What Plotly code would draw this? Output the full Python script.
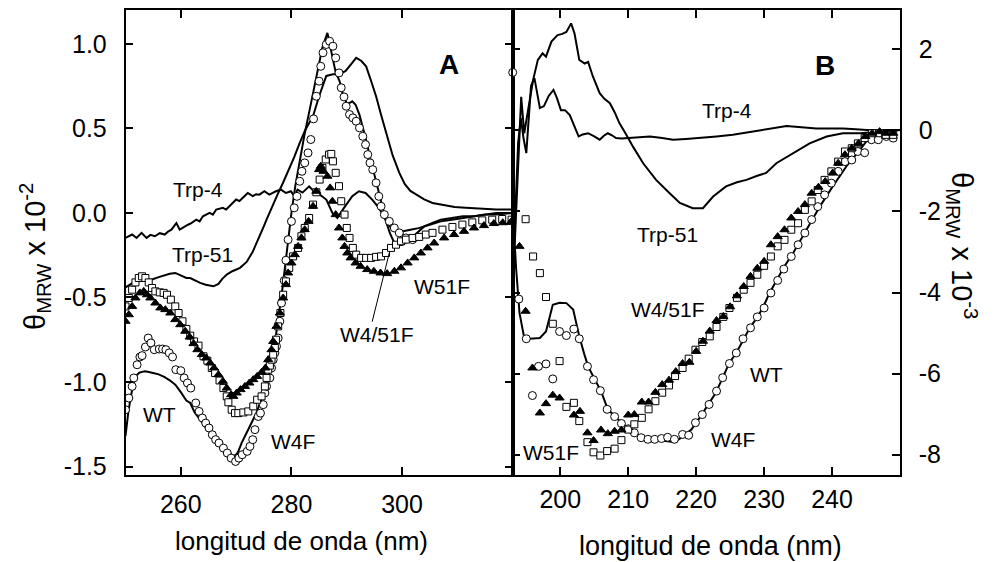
import plotly.graph_objects as go

# ---------------- Panel A (near-UV, x 10^-2) ----------------
wt_a_x = [250.0, 250.5, 251.0, 251.5, 252.0, 252.5, 253.0, 253.5, 254.0, 254.5, 255.0, 256.0, 257.0, 258.0, 259.0,
          260.0, 261.0, 261.7, 262.5, 263.5, 264.5, 265.9, 266.8, 267.7, 268.6, 269.5, 270.0, 270.4, 271.0, 271.9,
          272.8, 273.7, 274.6, 275.5, 276.1, 276.7, 277.3, 277.9, 278.4, 278.8, 279.4, 280.0, 280.7, 281.5, 282.4,
          283.3, 284.0, 284.8, 285.6, 286.5, 287.0, 287.5, 288.0, 288.7, 289.3, 290.0, 290.5, 291.0, 291.6, 292.3,
          293.0, 293.5, 294.2, 295.0, 295.8, 296.5, 297.1, 297.8, 298.5, 299.3, 300.0, 301.0, 302.0, 303.0, 304.0,
          305.5, 307.0, 309.0, 311.0, 313.0, 315.0, 317.0, 320.0]
wt_a_y = [-1.32, -1.18, -1.08, -1.00, -0.96, -0.945, -0.94, -0.937, -0.94, -0.945, -0.947, -0.955, -0.97, -0.99, -1.016,
          -1.06, -1.11, -1.124, -1.18, -1.223, -1.27, -1.322, -1.35, -1.381, -1.41, -1.44, -1.43, -1.41, -1.36, -1.30,
          -1.24, -1.18, -1.10, -1.026, -0.93, -0.83, -0.70, -0.572, -0.44, -0.33, -0.16, 0.0, 0.16, 0.315, 0.47,
          0.611, 0.73, 0.867, 0.98, 1.065, 0.99, 0.90, 0.83, 0.78, 0.70, 0.65, 0.65, 0.66, 0.64, 0.58,
          0.50, 0.43, 0.33, 0.22, 0.12, 0.03, -0.05, -0.12, -0.17, -0.19, -0.19, -0.17, -0.14, -0.11, -0.08,
          -0.06, -0.04, -0.03, -0.02, -0.02, -0.01, -0.01, 0.0]

trp4_a_x = [250.0, 251.2, 252.0, 252.9, 253.8, 254.5, 255.3, 256.2, 257.1, 257.7, 258.3, 259.2, 259.8, 260.7, 261.3,
            261.9, 262.8, 263.4, 264.0, 265.2, 265.8, 266.4, 267.6, 268.2, 268.8, 269.4, 270.0, 270.6, 271.2, 272.1,
            273.0, 273.6, 274.2, 275.1, 276.0, 276.6, 277.2, 278.1, 279.0, 279.9, 280.5, 281.1, 282.0, 283.2, 284.0,
            284.7, 285.5, 286.3, 287.4, 288.3, 289.5, 290.3, 291.0, 292.2, 293.4, 294.6, 295.8, 297.0, 298.2, 299.0,
            300.0, 301.5, 303.0, 305.0, 307.0, 309.0, 311.0, 313.0, 315.0, 317.0, 320.0]
trp4_a_y = [-0.148, -0.128, -0.148, -0.118, -0.148, -0.13, -0.138, -0.12, -0.128, -0.11, -0.099, -0.06, -0.099, -0.079, -0.07,
            -0.06, -0.04, -0.05, -0.02, 0.0, -0.01, 0.02, 0.03, 0.02, 0.04, 0.06, 0.079, 0.07, 0.089, 0.118,
            0.099, 0.11, 0.108, 0.128, 0.108, 0.12, 0.128, 0.138, 0.118, 0.128, 0.099, 0.138, 0.12, 0.157, 0.13,
            0.118, 0.10, 0.079, 0.0, -0.03, 0.03, 0.07, 0.099, 0.128, 0.118, 0.079, 0.03, -0.04, -0.099, -0.11,
            -0.11, -0.10, -0.09, -0.07, -0.05, -0.04, -0.03, -0.02, -0.01, 0.0, 0.0]

trp51_a_x = [250.0, 251.0, 252.0, 253.0, 254.0, 254.8, 256.0, 257.0, 258.0, 259.0, 260.0, 261.0, 261.7, 262.5, 263.5,
             264.5, 265.9, 266.8, 267.5, 268.3, 269.3, 270.7, 271.9, 273.0, 274.0, 275.0, 275.5, 276.5, 277.5, 278.5,
             279.5, 280.5, 281.5, 282.5, 283.9, 285.0, 286.3, 287.5, 288.7, 289.8, 290.8, 291.7, 292.6, 293.5, 294.4,
             295.3, 296.2, 297.1, 298.3, 299.5, 300.5, 301.5, 302.5, 304.0, 305.5, 307.5, 309.5, 311.5, 314.0, 317.0,
             320.0]
trp51_a_y = [-0.44, -0.42, -0.40, -0.40, -0.395, -0.394, -0.38, -0.37, -0.36, -0.355, -0.37, -0.385, -0.385, -0.40, -0.414,
             -0.425, -0.434, -0.42, -0.39, -0.365, -0.345, -0.325, -0.29, -0.23, -0.16, -0.08, -0.04, 0.04, 0.11, 0.18,
             0.25, 0.33, 0.414, 0.49, 0.572, 0.69, 0.81, 0.82, 0.82, 0.84, 0.88, 0.917, 0.90, 0.867, 0.78,
             0.69, 0.58, 0.473, 0.34, 0.237, 0.17, 0.13, 0.108, 0.08, 0.059, 0.045, 0.035, 0.03, 0.025, 0.02,
             0.02]

w4f_a_x = [250.0, 250.6, 251.2, 251.5, 252.1, 252.6, 253.0, 253.6, 254.1, 254.6, 255.2, 256.1, 256.7, 257.3, 257.9,
           258.5, 259.1, 260.0, 260.6, 261.2, 261.8, 262.7, 263.3, 263.9, 264.5, 265.1, 265.7, 266.3, 266.9, 267.7,
           268.4, 269.1, 269.9, 270.5, 271.1, 272.0, 272.5, 273.0, 273.4, 274.0, 274.4, 274.9, 275.2, 275.5, 276.1,
           276.4, 276.7, 277.0, 277.3, 277.6, 277.9, 278.2, 278.7, 279.0, 279.4, 280.0, 280.5, 281.0, 281.5, 281.9,
           282.4, 283.0, 283.5, 284.0, 284.5, 285.0, 285.3, 285.7, 286.3, 286.9, 287.5, 288.0, 288.6, 289.0, 289.5,
           289.9, 290.5, 291.1, 291.7, 292.3, 292.9, 293.4, 293.8, 294.2, 294.7, 295.3, 295.8, 296.2, 296.8, 297.7,
           298.6, 299.5, 300.7, 301.9]
w4f_a_y = [-1.164, -1.095, -1.026, -0.976, -0.898, -0.852, -0.844, -0.793, -0.740, -0.769, -0.809, -0.805, -0.805, -0.809, -0.828,
           -0.852, -0.927, -0.933, -0.976, -1.006, -1.036, -1.124, -1.174, -1.213, -1.243, -1.272, -1.312, -1.341, -1.361, -1.391,
           -1.420, -1.450, -1.470, -1.450, -1.430, -1.410, -1.381, -1.341, -1.282, -1.204, -1.184, -1.134, -1.065, -1.026, -0.976,
           -0.917, -0.868, -0.828, -0.789, -0.740, -0.641, -0.533, -0.40, -0.28, -0.158, -0.050, 0.030, 0.098, 0.187, 0.246,
           0.296, 0.355, 0.434, 0.556, 0.690, 0.779, 0.867, 0.947, 0.996, 1.015, 0.986, 0.917, 0.828, 0.740, 0.686,
           0.631, 0.582, 0.562, 0.542, 0.503, 0.453, 0.404, 0.345, 0.296, 0.256, 0.178, 0.098, 0.039, -0.010, -0.050,
           -0.089, -0.118, -0.148, -0.158]

w51f_a_x = [250.0, 250.6, 251.2, 251.8, 252.6, 253.3, 253.9, 254.5, 255.4, 256.3, 257.2, 258.1, 259.0, 259.9, 260.8,
            261.6, 262.3, 263.0, 263.8, 264.6, 265.3, 266.0, 266.8, 267.6, 268.3, 269.1, 269.5, 270.1, 270.8, 271.6,
            272.4, 273.1, 273.8, 274.6, 275.3, 275.8, 276.4, 276.7, 277.3, 277.9, 278.5, 279.0, 279.4, 280.0, 280.6,
            281.2, 281.8, 282.4, 283.1, 283.9, 284.5, 285.0, 285.3, 285.8, 286.5, 287.0, 287.4, 288.0, 288.6, 289.2,
            289.6, 290.1, 290.7, 291.6, 292.5, 293.7, 294.9, 296.1, 297.3, 298.6, 299.8, 301.0, 302.2, 303.4, 304.6,
            305.8, 307.6, 309.4, 311.2, 313.0, 314.8, 316.6, 318.2, 319.6]
w51f_a_y = [-0.641, -0.602, -0.553, -0.503, -0.473, -0.464, -0.484, -0.503, -0.533, -0.562, -0.572, -0.592, -0.631, -0.661, -0.700,
            -0.734, -0.773, -0.809, -0.838, -0.858, -0.888, -0.917, -0.957, -0.996, -1.036, -1.075, -1.085, -1.065, -1.045, -1.026,
            -1.006, -0.986, -0.967, -0.943, -0.917, -0.868, -0.809, -0.760, -0.671, -0.592, -0.503, -0.424, -0.355, -0.296, -0.247,
            -0.198, -0.148, -0.099, -0.050, 0.039, 0.128, 0.256, 0.276, 0.246, 0.217, 0.148, 0.069, -0.010, -0.089, -0.148,
            -0.198, -0.237, -0.266, -0.296, -0.316, -0.335, -0.345, -0.355, -0.359, -0.345, -0.325, -0.296, -0.266, -0.237, -0.207,
            -0.178, -0.148, -0.128, -0.109, -0.089, -0.075, -0.063, -0.058, -0.056]

w451f_a_x = [250.0, 250.6, 251.2, 251.8, 252.4, 253.0, 253.6, 254.2, 254.8, 255.4, 256.2, 256.9, 257.5, 258.2, 259.0,
             259.6, 260.3, 261.0, 261.7, 262.4, 263.2, 264.1, 264.8, 265.6, 266.2, 267.0, 267.7, 268.3, 268.6, 269.2,
             269.8, 270.4, 271.3, 272.2, 273.1, 273.8, 274.6, 275.2, 275.5, 275.8, 276.1, 276.4, 276.7, 277.0, 277.2,
             277.6, 278.0, 278.5, 279.0, 279.6, 280.3, 281.2, 281.8, 282.4, 283.2, 283.9, 284.5, 285.1, 285.6, 286.2,
             286.8, 287.2, 287.5, 288.0, 288.6, 289.0, 289.6, 290.0, 290.5, 291.1, 291.7, 292.6, 293.5, 294.4, 295.3,
             296.2, 297.1, 298.0, 298.9, 299.8, 300.7, 301.9, 303.1, 304.3, 305.5, 307.3, 309.1, 310.9, 312.7, 314.5,
             316.3, 318.1, 319.8]
w451f_a_y = [-0.553, -0.503, -0.454, -0.411, -0.385, -0.375, -0.385, -0.411, -0.444, -0.464, -0.470, -0.473, -0.484, -0.513, -0.553,
             -0.592, -0.641, -0.686, -0.726, -0.760, -0.785, -0.848, -0.874, -0.917, -0.947, -0.991, -1.036, -1.085, -1.120, -1.164,
             -1.184, -1.184, -1.180, -1.174, -1.144, -1.105, -1.085, -1.026, -0.976, -0.927, -0.903, -0.868, -0.838, -0.799, -0.750,
             -0.671, -0.592, -0.484, -0.405, -0.325, -0.257, -0.207, -0.138, -0.089, -0.030, 0.049, 0.122, 0.197, 0.266, 0.316,
             0.345, 0.349, 0.305, 0.237, 0.158, 0.069, -0.010, -0.089, -0.148, -0.207, -0.247, -0.266, -0.266, -0.266, -0.260,
             -0.257, -0.237, -0.207, -0.188, -0.168, -0.158, -0.148, -0.142, -0.128, -0.118, -0.099, -0.083, -0.069, -0.056, -0.044,
             -0.040, -0.036, -0.040]

# ---------------- Panel B (far-UV, x 10^-3) ----------------
wt_b_x = [193.0, 193.5, 194.0, 194.7, 195.5, 196.3, 197.0, 197.9, 198.9, 199.9, 200.9, 201.9, 202.8, 203.5, 204.1,
          205.1, 206.0, 207.0, 208.0, 209.0, 210.0, 210.9, 211.9, 213.6, 215.6, 216.8, 217.8, 219.3, 220.5, 221.9,
          222.9, 223.9, 224.9, 225.9, 226.9, 227.9, 228.9, 229.8, 230.8, 231.8, 233.0, 234.3, 236.2, 238.2, 240.1,
          242.1, 244.1, 245.6, 247.0, 248.5, 250.0]
wt_b_y = [-1.9, -3.4, -4.5, -5.12, -5.14, -5.13, -5.12, -4.96, -4.30, -4.25, -4.26, -4.42, -5.08, -5.5, -5.82,
          -6.15, -6.43, -6.88, -7.05, -7.21, -7.34, -7.46, -7.58, -7.62, -7.67, -7.69, -7.58, -7.38, -7.09, -6.72,
          -6.47, -6.10, -5.73, -5.49, -5.16, -4.87, -4.63, -4.38, -4.01, -3.72, -3.35, -3.02, -2.45, -1.88, -1.38,
          -0.89, -0.48, -0.15, -0.03, 0.0, 0.01]

trp4_b_x = [193.3, 193.8, 194.2, 194.6, 195.0, 195.4, 195.7, 196.2, 196.6, 197.0, 197.6, 198.3, 199.0, 199.5, 200.1,
            200.7, 201.4, 202.0, 202.7, 203.3, 204.1, 205.0, 205.8, 206.5, 207.0, 207.6, 208.2, 209.0, 209.7, 211.5,
            213.2, 215.0, 216.6, 218.5, 220.5, 223.0, 225.4, 227.5, 229.4, 231.5, 233.3, 235.5, 237.7, 239.5, 241.6,
            243.5, 245.1, 247.5, 250.0]
trp4_b_y = [-2.4, -0.3, 0.3, -0.2, -0.56, 0.3, 1.1, 1.29, 0.9, 0.55, 0.6, 0.85, 1.0, 0.8, 0.5,
            0.5, 0.38, 0.15, -0.15, -0.1, -0.07, -0.15, -0.23, -0.12, -0.07, -0.12, -0.19, -0.2, -0.19, -0.17,
            -0.15, -0.19, -0.23, -0.21, -0.19, -0.15, -0.11, -0.05, 0.01, 0.07, 0.11, 0.08, 0.05, 0.05, 0.05,
            0.03, 0.01, 0.01, 0.01]

trp51_b_x = [193.3, 193.8, 194.25, 194.7, 195.5, 196.0, 196.7, 197.4, 197.9, 198.7, 199.6, 200.3, 200.9, 201.6, 202.1,
             202.8, 203.6, 204.1, 204.8, 205.8, 206.5, 207.3, 208.0, 208.7, 209.7, 210.7, 212.2, 214.1, 216.1, 217.6,
             219.5, 221.0, 222.5, 224.4, 226.0, 227.4, 229.0, 230.3, 231.8, 234.3, 236.7, 239.2, 241.6, 244.1, 246.5,
             250.0]
trp51_b_y = [-2.8, -0.8, 0.83, -0.07, 0.75, 1.24, 1.74, 1.9, 1.82, 2.19, 2.35, 2.38, 2.43, 2.64, 2.39,
             1.74, 1.65, 1.69, 1.33, 0.92, 0.78, 0.67, 0.45, 0.18, -0.1, -0.4, -0.81, -1.22, -1.55, -1.79,
             -1.92, -1.92, -1.63, -1.38, -1.28, -1.22, -1.12, -1.05, -0.81, -0.56, -0.32, -0.15, -0.07, -0.07, -0.03,
             0.01]

w4f_b_x = [193.0, 193.9, 195.0, 195.9, 196.8, 197.9, 198.9, 199.9, 200.9, 202.0, 202.8, 204.0, 204.9, 205.9, 206.9,
           208.0, 209.0, 210.0, 210.9, 211.9, 212.9, 213.9, 214.9, 215.8, 216.8, 218.0, 218.9, 219.9, 220.9, 221.9,
           223.0, 223.9, 224.9, 225.9, 226.9, 228.0, 229.0, 230.0, 231.0, 232.0, 232.9, 234.0, 235.0, 236.0, 237.0,
           237.9, 238.9, 239.9, 240.9, 241.9, 242.9, 243.8, 244.8, 245.8, 246.8, 248.0, 249.0]
w4f_b_y = [1.43, -4.16, -5.14, -6.54, -5.82, -5.76, -6.13, -4.96, -5.06, -4.90, -5.14, -5.82, -6.15, -6.42, -6.88,
           -7.06, -7.23, -7.36, -7.46, -7.58, -7.62, -7.62, -7.60, -7.57, -7.62, -7.50, -7.52, -7.21, -7.01, -6.76,
           -6.43, -6.10, -5.75, -5.49, -5.14, -4.87, -4.60, -4.38, -4.01, -3.70, -3.42, -3.11, -2.82, -2.53, -2.20,
           -1.88, -1.59, -1.30, -1.01, -0.77, -0.73, -0.52, -0.55, -0.23, -0.23, -0.15, -0.19]

w51f_b_x = [194.0, 194.9, 195.9, 197.0, 197.9, 198.9, 199.9, 202.0, 202.9, 204.0, 204.9, 206.0, 207.0, 208.0, 209.0,
            210.0, 210.9, 212.0, 213.0, 214.0, 215.0, 216.0, 217.0, 218.0, 219.0, 220.0, 221.0, 222.0, 223.0, 224.0,
            225.0, 226.0, 227.0, 228.0, 229.0, 230.0, 231.0, 232.0, 233.0, 234.0, 235.0, 236.0, 237.0, 238.0, 239.0,
            240.1, 240.9, 241.9, 242.9, 243.9, 244.9, 245.9, 247.0, 247.9, 249.0]
w51f_b_y = [-2.86, -4.46, -5.86, -6.97, -6.74, -6.53, -6.60, -7.02, -6.93, -7.46, -7.65, -7.39, -7.48, -7.42, -7.39,
            -7.02, -7.01, -6.70, -6.70, -6.46, -6.27, -6.16, -5.95, -5.75, -5.72, -5.45, -5.20, -4.95, -4.69, -4.59,
            -4.35, -4.08, -3.85, -3.60, -3.40, -3.23, -2.82, -2.62, -2.45, -2.16, -2.00, -1.83, -1.55, -1.40, -1.26,
            -1.05, -0.81, -0.60, -0.44, -0.32, -0.15, -0.07, -0.03, -0.07, -0.07]

w451f_b_x = [194.9, 196.0, 197.0, 197.9, 198.9, 199.9, 200.9, 202.0, 202.8, 204.0, 204.9, 205.9, 206.9, 208.0, 209.0,
             210.0, 210.9, 212.0, 213.0, 214.0, 215.0, 216.0, 216.9, 218.0, 218.9, 219.9, 220.9, 222.0, 223.0, 224.0,
             224.9, 226.0, 227.0, 228.0, 229.0, 230.0, 231.0, 232.0, 233.0, 234.0, 235.0, 236.0, 237.0, 237.9, 238.9,
             239.9, 240.9, 241.9, 242.9, 243.8, 244.8, 245.9, 247.0, 247.9, 249.0]
w451f_b_y = [-2.19, -3.11, -3.52, -4.11, -4.77, -5.69, -6.82, -6.72, -7.17, -7.69, -7.94, -8.02, -7.91, -7.85, -7.64,
             -7.38, -7.25, -7.09, -6.88, -6.68, -6.47, -6.29, -6.06, -5.86, -5.63, -5.41, -5.22, -5.08, -4.85, -4.60,
             -4.38, -4.13, -3.93, -3.76, -3.56, -3.34, -3.11, -2.86, -2.70, -2.45, -2.29, -1.96, -1.75, -1.47, -1.22,
             -1.01, -0.77, -0.52, -0.44, -0.32, -0.19, -0.07, -0.07, -0.11, -0.11]

ya_ticks = [-1.5, -1.0, -0.5, 0.0, 0.5, 1.0]
ya_text = ["-1.5", "-1.0", "-0.5", "0.0", "0.5", "1.0"]
yb_ticks = [-8, -6, -4, -2, 0, 2]
yb_text = ["-8", "-6", "-4", "-2", "0", "2"]
xa_ticks = [260, 280, 300]
xb_ticks = [200, 210, 220, 230, 240]

FONT = "Liberation Sans, Arial, sans-serif"
LW = 2

fig = go.Figure()

def line(x, y, xa, ya):
    fig.add_trace(go.Scatter(x=x, y=y, mode="lines", xaxis=xa, yaxis=ya,
                             line=dict(color="black", width=LW), showlegend=False, hoverinfo="skip"))

def marks(x, y, xa, ya, symbol, size, filled, clip=True):
    fig.add_trace(go.Scatter(x=x, y=y, mode="markers", xaxis=xa, yaxis=ya, cliponaxis=clip,
                             marker=dict(symbol=symbol, size=size,
                                         color="black" if filled else "white",
                                         line=dict(color="black", width=1)),
                             showlegend=False, hoverinfo="skip"))

# Panel A
line(wt_a_x, wt_a_y, "x", "y")
line(trp4_a_x, trp4_a_y, "x", "y")
line(trp51_a_x, trp51_a_y, "x", "y")
marks(w4f_a_x, w4f_a_y, "x", "y", "circle", 8, False)
marks(w451f_a_x, w451f_a_y, "x", "y", "square", 7, False)
marks(w51f_a_x, w51f_a_y, "x", "y", "triangle-up", 8, True)

# Panel B
line(wt_b_x, wt_b_y, "x2", "y2")
line(trp4_b_x, trp4_b_y, "x2", "y2")
line(trp51_b_x, trp51_b_y, "x2", "y2")
marks(w4f_b_x, w4f_b_y, "x2", "y2", "circle", 8, False, clip=False)
marks(w451f_b_x, w451f_b_y, "x2", "y2", "square", 7, False)
marks(w51f_b_x, w51f_b_y, "x2", "y2", "triangle-up", 8, True)

axis_common = dict(showline=True, linecolor="black", linewidth=1.5, ticks="inside", ticklen=8,
                   tickwidth=1.5, tickcolor="black", mirror="ticks", showgrid=False, zeroline=False,
                   automargin=False, tickfont=dict(family=FONT, size=25, color="black"))

X0, XM, X1 = 125.5 / 1000, 512.7 / 1000, 900.0 / 1000
Y0, Y1 = 1 - 475 / 562, 1 - 10 / 562

fig.update_layout(
    width=1000, height=562,
    margin=dict(l=0, r=0, t=0, b=0, autoexpand=False),
    paper_bgcolor="white", plot_bgcolor="white",
    font=dict(family=FONT, color="black"),
    xaxis=dict(domain=[X0, XM], range=[250, 320], tickvals=xa_ticks, anchor="y",
               ticklabelstandoff=6, **axis_common),
    yaxis=dict(domain=[Y0, Y1], range=[-1.55, 1.2], tickvals=ya_ticks, ticktext=ya_text, anchor="x",
               ticklabelstandoff=12, **axis_common),
    xaxis2=dict(domain=[XM, X1], range=[193, 250], tickvals=xb_ticks, anchor="y2",
                ticklabelstandoff=1, **axis_common),
    yaxis2=dict(domain=[Y0, Y1], range=[-8.5, 2.97], tickvals=yb_ticks, ticktext=yb_text, anchor="x2",
                side="right", ticklabelstandoff=12, **axis_common),
)

ann_font = dict(family=FONT, size=21, color="black")
labels_a = [("Trp-4", 263.1, 0.138), ("Trp-51", 264.0, -0.247), ("WT", 256.2, -1.19),
            ("W4F", 280.2, -1.35), ("W51F", 307.2, -0.435), ("W4/51F", 295.5, -0.72)]
labels_b = [("Trp-4", 224.6, 0.50), ("Trp-51", 215.8, -2.57), ("W4/51F", 215.8, -4.42),
            ("WT", 230.4, -6.02), ("W4F", 225.4, -7.62), ("W51F", 198.7, -7.94)]
for t, x, y in labels_a:
    fig.add_annotation(text=t, x=x, y=y, xref="x", yref="y", showarrow=False, font=ann_font,
                       xanchor="center", yanchor="middle")
for t, x, y in labels_b:
    fig.add_annotation(text=t, x=x, y=y, xref="x2", yref="y2", showarrow=False, font=ann_font,
                       xanchor="center", yanchor="middle")

fig.add_annotation(text="<b>A</b>", x=308.5, y=0.88, xref="x", yref="y", showarrow=False,
                   xanchor="center", yanchor="middle", font=dict(family=FONT, size=28, color="black"))
fig.add_annotation(text="<b>B</b>", x=238.9, y=1.61, xref="x2", yref="y2", showarrow=False,
                   xanchor="center", yanchor="middle", font=dict(family=FONT, size=28, color="black"))

# pointer line for W4/51F label in panel A
fig.add_shape(type="line", x0=294.6, y0=-0.643, x1=297.7, y1=-0.235, xref="x", yref="y",
              line=dict(color="black", width=1))

# axis titles
fig.add_annotation(text="longitud de onda (nm)", x=0.3015, y=1 - 541 / 562, xref="paper", yref="paper",
                   xanchor="center", yanchor="middle", showarrow=False,
                   font=dict(family=FONT, size=26, color="black"))
fig.add_annotation(text="longitud de onda (nm)", x=0.710, y=1 - 546 / 562, xref="paper", yref="paper",
                   xanchor="center", yanchor="middle", showarrow=False,
                   font=dict(family=FONT, size=27, color="black"))
fig.add_annotation(text="θ<sub>MRW</sub> x 10<sup>-2</sup>", x=0.035, y=1 - 257 / 562, xref="paper", yref="paper",
                   xanchor="center", yanchor="middle", showarrow=False, textangle=-90,
                   font=dict(family=FONT, size=29, color="black"))
fig.add_annotation(text="θ<sub>MRW</sub> x 10<sup>-3</sup>", x=0.962, y=1 - 245 / 562, xref="paper", yref="paper",
                   xanchor="center", yanchor="middle", showarrow=False, textangle=90,
                   font=dict(family=FONT, size=29, color="black"))

fig.write_html("out.html", config={"displayModeBar": False},
               post_script="document.body.style.margin='0';document.body.style.padding='0';")
